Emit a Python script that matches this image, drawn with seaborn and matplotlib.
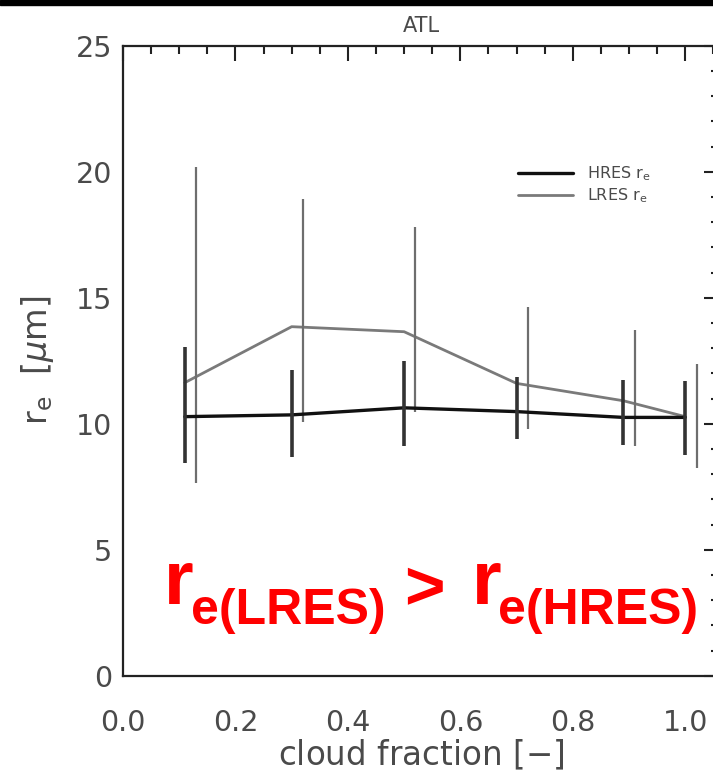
import matplotlib
matplotlib.use("Agg")
import matplotlib.pyplot as plt
import seaborn as sns
import pandas as pd
from matplotlib.ticker import MultipleLocator
from matplotlib.lines import Line2D
from matplotlib.patches import Rectangle

# ---- data ----
cloud_fraction = [0.11, 0.30, 0.50, 0.70, 0.89, 1.00]
hres_re = [10.28, 10.35, 10.63, 10.48, 10.25, 10.25]
hres_low = [8.45, 8.67, 9.11, 9.38, 9.15, 8.76]
hres_high = [13.06, 12.12, 12.49, 11.84, 11.73, 11.68]

lres_re = [11.63, 13.85, 13.65, 11.60, 10.91, 10.28]
lres_bar_x = [0.13, 0.32, 0.52, 0.72, 0.91, 1.02]
lres_low = [7.65, 10.08, 10.48, 9.78, 9.11, 8.23]
lres_high = [20.19, 18.92, 17.80, 14.63, 13.72, 12.37]

x_ticks = [0.0, 0.2, 0.4, 0.6, 0.8, 1.0]
y_ticks = [0, 5, 10, 15, 20, 25]

sns.set_style("white")
plt.rcParams["font.family"] = ["DejaVu Sans"]
plt.rcParams["mathtext.fontset"] = "custom"
plt.rcParams["mathtext.rm"] = "DejaVu Sans"
plt.rcParams["mathtext.it"] = "DejaVu Sans:italic"

txt = "#4a4a4a"

fig = plt.figure(figsize=(7.13, 7.73), dpi=100)
ax = fig.add_axes([123 / 713, 1 - 675.7 / 773, (719 - 123) / 713, (675.7 - 45.7) / 773])

df = pd.DataFrame({"cf": cloud_fraction, "hres": hres_re, "lres": lres_re})

# LRES
sns.lineplot(data=df, x="cf", y="lres", ax=ax, color="#7a7a7a", lw=2.0, estimator=None)
ax.errorbar(lres_bar_x, lres_re,
            yerr=[[m - lo for m, lo in zip(lres_re, lres_low)],
                  [hi - m for m, hi in zip(lres_re, lres_high)]],
            fmt="none", ecolor="#6e6e6e", elinewidth=1.6, capsize=0)
# HRES
sns.lineplot(data=df, x="cf", y="hres", ax=ax, color="#111111", lw=2.4, estimator=None)
ax.errorbar(cloud_fraction, hres_re,
            yerr=[[m - lo for m, lo in zip(hres_re, hres_low)],
                  [hi - m for m, hi in zip(hres_re, hres_high)]],
            fmt="none", ecolor="#333333", elinewidth=2.6, capsize=0)

ax.set_xlim(0, 1.06)
ax.set_ylim(0, 25)
ax.set_xticks(x_ticks)
ax.set_xticklabels([f"{v:.1f}" for v in x_ticks])
ax.set_yticks(y_ticks)
ax.set_yticklabels([str(v) for v in y_ticks])
ax.xaxis.set_minor_locator(MultipleLocator(0.05))
ax.yaxis.set_minor_locator(MultipleLocator(1))
ax.tick_params(which="both", direction="in", top=True, right=True, colors="#222222",
               labelcolor=txt, labelsize=20.5)
ax.tick_params(axis="x", which="both", pad=24)
ax.tick_params(axis="y", which="both", pad=8)
ax.tick_params(which="major", length=11, width=1.5)
ax.tick_params(which="minor", length=5.5, width=1.5)
for s in ax.spines.values():
    s.set_color("#222222")
    s.set_linewidth(1.6)

ax.set_xlabel("cloud fraction [$-$]", fontsize=23.5, color=txt, labelpad=1)
ax.set_ylabel(r"$\mathregular{r_e}$  [$\mu$m]", fontsize=24, color=txt, labelpad=14)
ax.set_title("ATL", fontsize=15, color=txt, pad=10)

handles = [Line2D([], [], color="#111111", lw=2.4),
           Line2D([], [], color="#7a7a7a", lw=2.0)]
leg = ax.legend(handles, [r"HRES $\mathregular{r_e}$", r"LRES $\mathregular{r_e}$"],
                loc="upper left", bbox_to_anchor=(512 / 713, 1 - 158 / 773),
                bbox_transform=fig.transFigure, frameon=False, fontsize=11.5,
                handlelength=3.4, handletextpad=0.9, labelspacing=0.2, borderaxespad=0)
for t in leg.get_texts():
    t.set_color(txt)

# red annotation built from pieces (big "r", lowered subscript)
red = "#ff0000"
H = 773
def put(x, y, s, size):
    fig.text(x / 713, 1 - y / H, s, color=red, family="Liberation Sans", weight="bold",
             ha="left", va="baseline", fontsize=size)

put(164, 604, "r", 55)
put(191, 624, "e(LRES)", 36)
put(404, 609, ">", 50)
put(472, 604, "r", 55)
put(498, 624, "e(HRES)", 36)

fig.patches.append(Rectangle((0, 1 - 5 / 773), 1, 5 / 773, transform=fig.transFigure,
                             color="black", zorder=10))

fig.savefig("out.png", dpi=100)
